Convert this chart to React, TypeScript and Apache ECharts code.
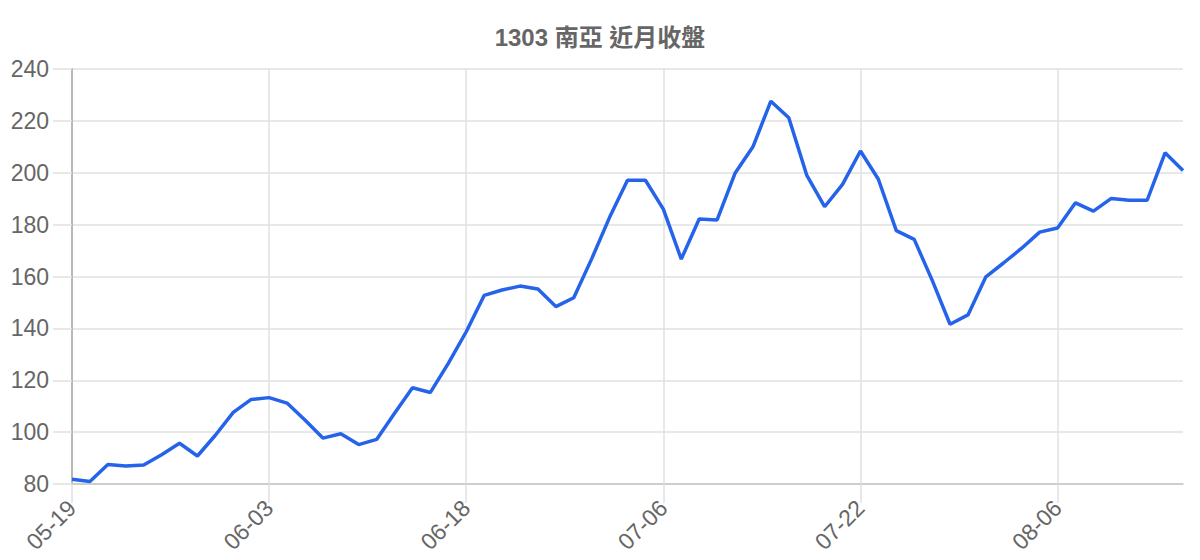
import * as echarts from 'echarts';
import { useEffect, useRef } from 'react';

// 交易日（每 11 筆顯示一個標籤）
const dates: string[] = [
  '05-19', '05-20', '05-21', '05-22', '05-23', '05-26', '05-27', '05-28', '05-29', '05-30',
  '06-02', '06-03', '06-04', '06-05', '06-06', '06-09', '06-10', '06-11', '06-12', '06-13',
  '06-16', '06-17', '06-18', '06-19', '06-20', '06-23', '06-24', '06-25', '06-26', '06-27',
  '07-01', '07-02', '07-03', '07-06', '07-07', '07-08', '07-09', '07-10', '07-13', '07-14',
  '07-15', '07-16', '07-17', '07-21', '07-22', '07-23', '07-24', '07-27', '07-28', '07-29',
  '07-30', '07-31', '08-03', '08-04', '08-05', '08-06', '08-07', '08-10', '08-11', '08-12',
  '08-13', '08-14', '08-17',
];

// 收盤價
const closes: number[] = [
  81.8, 81.0, 87.5, 86.9, 87.3, 91.3, 95.7, 90.8, 98.8, 107.6,
  112.6, 113.3, 111.2, 104.7, 97.7, 99.4, 95.2, 97.2, 107.3, 117.1,
  115.3, 126.5, 138.7, 152.7, 154.8, 156.3, 155.2, 148.4, 151.8, 166.8,
  182.8, 197.1, 197.1, 186.0, 166.7, 182.2, 181.8, 199.8, 210.0, 227.6,
  221.2, 199.1, 186.9, 195.5, 208.4, 197.5, 177.7, 174.3, 158.6, 141.6,
  145.2, 159.9, 165.3, 170.9, 177.1, 178.7, 188.4, 185.2, 190.1, 189.4,
  189.4, 207.7, 200.9,
];

const FONT = "'Liberation Sans', 'Noto Sans CJK TC', sans-serif";

export default function App() {
  const chartRef = useRef<HTMLDivElement>(null);

  useEffect(() => {
    if (!chartRef.current) return;
    document.body.style.margin = '0';

    const chart = echarts.init(chartRef.current, undefined, { renderer: 'svg' });

    chart.setOption({
      animation: false,
      backgroundColor: '#fff',
      title: {
        text: '1303 南亞 近月收盤',
        left: 'center',
        top: 20,
        textStyle: { fontFamily: FONT, fontSize: 24, fontWeight: 'bold', color: '#666' },
      },
      grid: { left: 72, right: 17, top: 69, bottom: 76 },
      xAxis: {
        type: 'category',
        data: dates,
        boundaryGap: false,
        axisLine: { lineStyle: { color: '#c4c4c4', width: 1.5 } },
        axisTick: { show: true, interval: 10, length: 19, lineStyle: { color: '#e0e0e0', width: 1.5 } },
        axisLabel: {
          interval: 10,
          rotate: 45,
          margin: 20,
          fontFamily: FONT,
          fontSize: 23,
          color: '#666',
        },
        splitLine: { show: true, interval: 10, lineStyle: { color: '#e0e0e0', width: 1.5 } },
      },
      yAxis: {
        type: 'value',
        min: 80,
        max: 240,
        interval: 20,
        axisLine: { show: true, lineStyle: { color: '#a8a8a8', width: 1.5 } },
        axisTick: { show: true, length: 19, lineStyle: { color: '#e0e0e0', width: 1.5 } },
        axisLabel: { margin: 23, fontFamily: FONT, fontSize: 23, color: '#666' },
        splitLine: { lineStyle: { color: '#e0e0e0', width: 1.5 } },
      },
      series: [
        {
          name: '收盤',
          type: 'line',
          data: closes,
          showSymbol: false,
          lineStyle: { width: 3.5, color: '#2563eb' },
          itemStyle: { color: '#2563eb' },
        },
      ],
    });

    return () => {
      chart.dispose();
    };
  }, []);

  return <div ref={chartRef} style={{ width: 1200, height: 560 }} />;
}
